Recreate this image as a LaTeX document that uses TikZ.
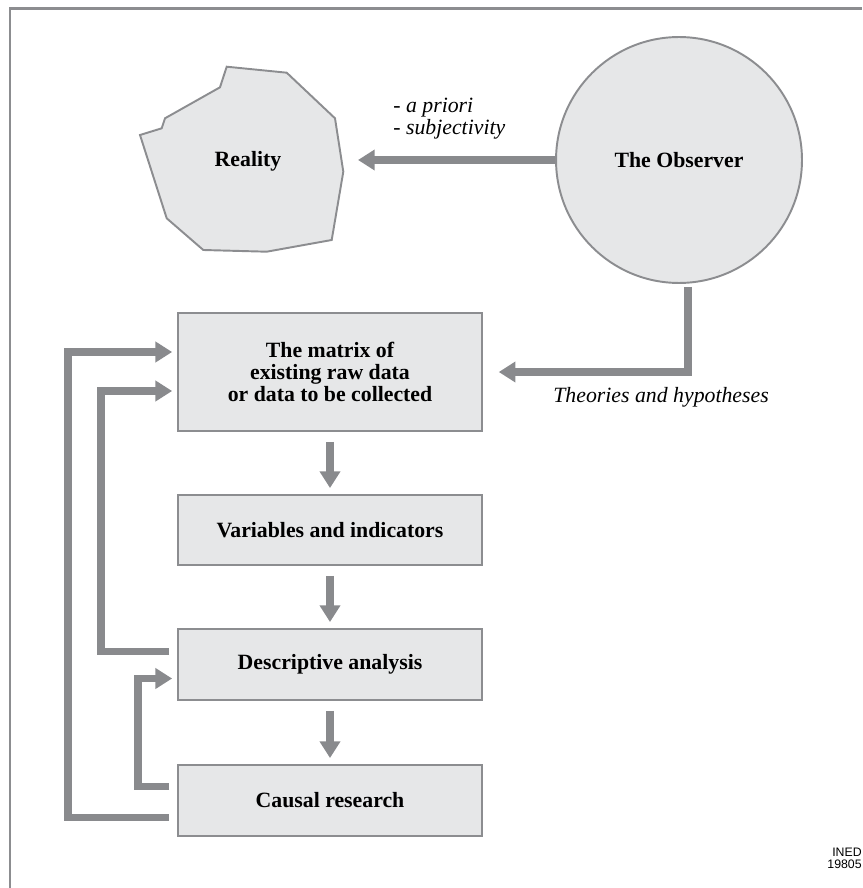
\documentclass[tikz,border=0pt]{standalone}
\usepackage{fontspec}
\setmainfont{Liberation Serif}
\newfontfamily\inedfont{Liberation Sans}
\usetikzlibrary{arrows.meta,calc}
\definecolor{boxfill}{RGB}{230,231,232}
\definecolor{boxline}{RGB}{140,141,144}
\definecolor{arrowgray}{RGB}{137,138,141}

\begin{document}
\begin{tikzpicture}[x=0.02cm, y=-0.02cm,
    font=\fontsize{12.4}{12.6}\selectfont\bfseries,
    stage/.style={rectangle, draw=boxline, fill=boxfill, line width=1.1pt,
      minimum width=6.08cm, align=center, inner sep=0pt},
    fatarrow/.style={draw=arrowgray, line width=4.5pt,
      -{Triangle[length=9.5pt,width=11.3pt]}},
    flow/.style={fatarrow, line width=4pt, shorten <=5.7pt, shorten >=3.4pt},
    note/.style={font=\fontsize{12.4}{12.6}\selectfont\mdseries\itshape,
      anchor=base west, inner sep=0pt}]
  \useasboundingbox (0,0) rectangle (862,888);
  \draw[boxline, line width=1.6pt] (10,888) -- (10,8.7) -- (862,8.7);

  % reality and observer
  \draw[draw=boxline, fill=boxfill, line width=1.1pt]
    (226.7,66.7) -- (286.7,72.7) -- (335,118.3) -- (343.3,171.7) -- (331.7,240)
    -- (266.7,251.7) -- (203.3,250) -- (166.7,218.3) -- (140,135) -- (161.7,128.3)
    -- (165,118.3) -- (220,87.3) -- cycle;
  \node (reality) at (248,161) {Reality};
  \coordinate (realitytip) at (358,160);
  \node[circle, draw=boxline, fill=boxfill, line width=1.1pt,
    minimum size=4.92cm, inner sep=0pt] (observer) at (679,160) {The Observer};
  \node[note] (apriori) at (393,113) {- a priori};
  \node[note] (subject) at (393,135) {- subjectivity};

  % steps
  \node[stage, minimum height=2.36cm] (matrix) at (330,372)
    {The matrix of\\existing raw data\\or data to be collected};
  \node[stage, minimum height=1.4cm] (vars) at (330,530) {Variables and indicators};
  \node[stage, minimum height=1.42cm] (descr) at (330,664.5) {Descriptive analysis};
  \node[stage, minimum height=1.42cm] (causal) at (330,800.5) {Causal research};
  \node[note] (theories) at (553,402) {Theories and hypotheses};
  \node[anchor=base east, align=right, inner sep=0pt,
    font=\inedfont\fontsize{7}{6.8}\selectfont] (ined) at (862,868) {INED\\19805};

  \draw[fatarrow] (observer.west) -- (realitytip);
  \draw[fatarrow, shorten >=9pt] ($(observer.south)+(9,3)$) |- (matrix.east);
  \draw[flow] (matrix) -- (vars);
  \draw[flow] (vars) -- (descr);
  \draw[flow] (descr) -- (causal);

  % feedback loops
  \draw[fatarrow, shorten >=2.8pt] ($(causal.west)+(-8,17)$) -- ++(-101,0)
    |- ($(matrix.west)+(0,-20)$);
  \draw[fatarrow, shorten >=2.8pt] ($(descr.west)+(-8,-13)$) -- ++(-68,0)
    |- ($(matrix.west)+(0,19)$);
  \draw[fatarrow, shorten >=2.8pt] ($(causal.west)+(-8,-14)$) -- ++(-31,0)
    |- ($(descr.west)+(0,14)$);
\end{tikzpicture}
\end{document}
